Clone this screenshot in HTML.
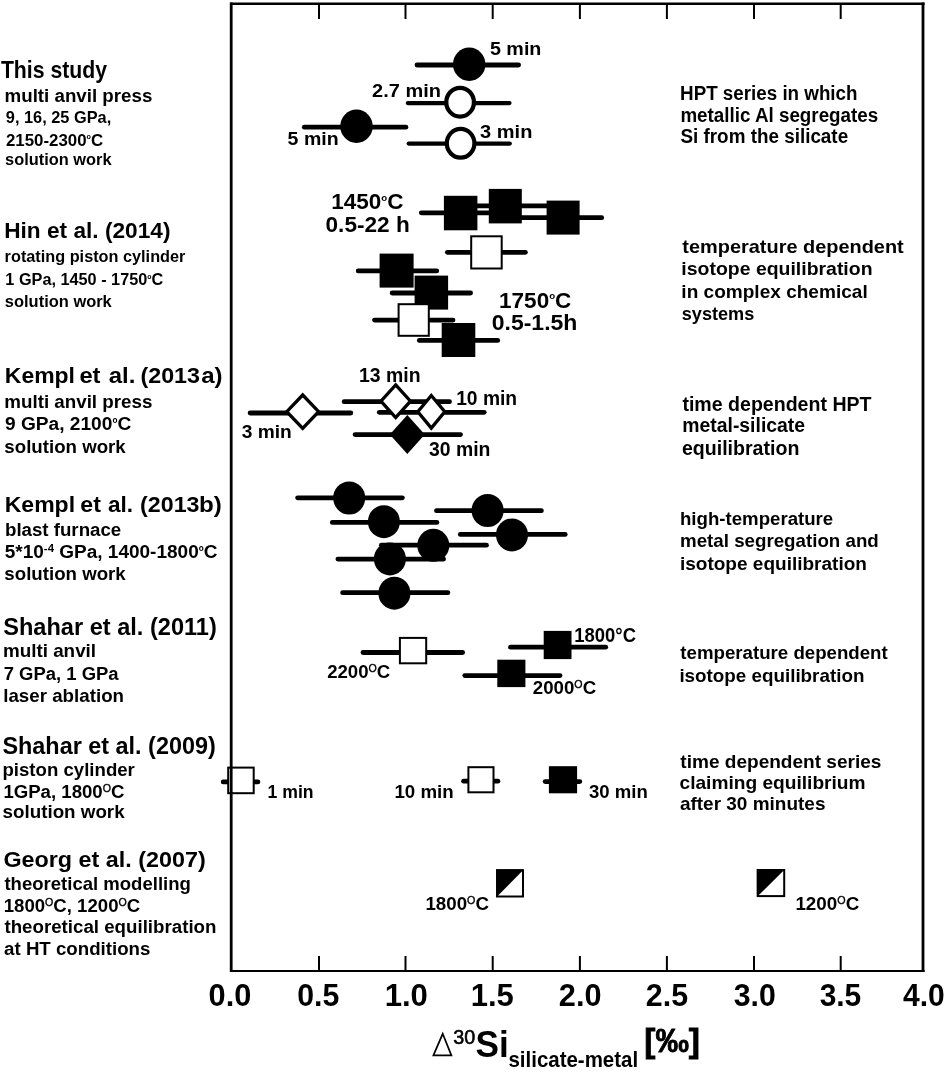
<!DOCTYPE html>
<html><head><meta charset="utf-8"><style>
html,body{margin:0;padding:0;background:#fff;}
svg{display:block;will-change:transform;filter:blur(0.35px);}
text{font-family:"Liberation Sans", sans-serif;font-weight:bold;fill:#000;stroke:#000;stroke-width:0px;}
</style></head><body>
<svg width="944" height="1072" viewBox="0 0 944 1072">
<rect width="944" height="1072" fill="#fff"/>
<line x1="417.0" y1="65" x2="518.6" y2="65" stroke="#000" stroke-width="4.8" stroke-linecap="round"/>
<ellipse cx="469.2" cy="64.3" rx="16.2" ry="16.7" fill="#000"/>
<line x1="407.8" y1="103.1" x2="509.5" y2="103.1" stroke="#000" stroke-width="4.2" stroke-linecap="round"/>
<ellipse cx="460.1" cy="102.2" rx="13.8" ry="14.4" fill="#fff" stroke="#000" stroke-width="4.2"/>
<line x1="304.3" y1="127.2" x2="405.9" y2="127.2" stroke="#000" stroke-width="4.8" stroke-linecap="round"/>
<ellipse cx="356.5" cy="126.3" rx="16.2" ry="16.7" fill="#000"/>
<line x1="408.70000000000005" y1="143.6" x2="509.79999999999995" y2="143.6" stroke="#000" stroke-width="4.2" stroke-linecap="round"/>
<ellipse cx="460.6" cy="143.3" rx="13.8" ry="14.4" fill="#fff" stroke="#000" stroke-width="4.2"/>
<line x1="421.3" y1="212.8" x2="500" y2="212.8" stroke="#000" stroke-width="4.8" stroke-linecap="round"/>
<line x1="460" y1="205.8" x2="560" y2="205.8" stroke="#000" stroke-width="4.8" stroke-linecap="round"/>
<line x1="510" y1="217.7" x2="601.7" y2="217.7" stroke="#000" stroke-width="4.8" stroke-linecap="round"/>
<rect x="443.9" y="195.8" width="33.5" height="34.5" fill="#000"/>
<rect x="488.8" y="188.9" width="33" height="34.5" fill="#000"/>
<rect x="546.6" y="200.6" width="33" height="34" fill="#000"/>
<line x1="447.4" y1="252.3" x2="525.4" y2="252.3" stroke="#000" stroke-width="4.8" stroke-linecap="round"/>
<rect x="471.2" y="236.3" width="30.5" height="32.2" fill="#fff" stroke="#000" stroke-width="2"/>
<line x1="358.2" y1="270.9" x2="436.7" y2="270.9" stroke="#000" stroke-width="4.8" stroke-linecap="round"/>
<rect x="379.6" y="253.6" width="34" height="34" fill="#000"/>
<line x1="392.1" y1="293" x2="470.59999999999997" y2="293" stroke="#000" stroke-width="4.8" stroke-linecap="round"/>
<rect x="414.6" y="275.6" width="33.5" height="34" fill="#000"/>
<line x1="374.5" y1="320.1" x2="453.0" y2="320.1" stroke="#000" stroke-width="4.8" stroke-linecap="round"/>
<rect x="398.6" y="304.2" width="30.200000000000003" height="31.6" fill="#fff" stroke="#000" stroke-width="2"/>
<line x1="419.3" y1="340.4" x2="497.7" y2="340.4" stroke="#000" stroke-width="4.8" stroke-linecap="round"/>
<rect x="441.7" y="323.0" width="33.6" height="34" fill="#000"/>
<line x1="250.1" y1="413.0" x2="350.8" y2="413.0" stroke="#000" stroke-width="4.8" stroke-linecap="round"/>
<line x1="344.09999999999997" y1="401.7" x2="449.5" y2="401.7" stroke="#000" stroke-width="4.8" stroke-linecap="round"/>
<line x1="379.29999999999995" y1="412.3" x2="484.20000000000005" y2="412.3" stroke="#000" stroke-width="4.8" stroke-linecap="round"/>
<line x1="355.09999999999997" y1="434.6" x2="460.5" y2="434.6" stroke="#000" stroke-width="4.8" stroke-linecap="round"/>
<polygon points="302.7,394.99184358304586 318.6208610884065,411.7 302.7,428.4081564169541 286.77913891159346,411.7" fill="#fff" stroke="#000" stroke-width="3.3" stroke-linejoin="miter"/>
<polygon points="395.7,384.906494398021 410.4727784124609,401.2 395.7,417.493505601979 380.92722158753907,401.2" fill="#fff" stroke="#000" stroke-width="3.3" stroke-linejoin="miter"/>
<polygon points="431.3,395.49203679964427 444.76054105426186,411.8 431.3,428.10796320035575 417.83945894573816,411.8" fill="#fff" stroke="#000" stroke-width="3.3" stroke-linejoin="miter"/>
<polygon points="407.3,415.1 424.8,434.5 407.3,453.9 389.8,434.5" fill="#000"/>
<line x1="297.6" y1="497.8" x2="402.4" y2="497.8" stroke="#000" stroke-width="4.8" stroke-linecap="round"/>
<ellipse cx="349.2" cy="498" rx="16" ry="16.5" fill="#000"/>
<line x1="332.3" y1="522.4" x2="436.9" y2="522.4" stroke="#000" stroke-width="4.8" stroke-linecap="round"/>
<ellipse cx="383.9" cy="521.7" rx="16" ry="16.5" fill="#000"/>
<line x1="436.5" y1="510.7" x2="541.4000000000001" y2="510.7" stroke="#000" stroke-width="4.8" stroke-linecap="round"/>
<ellipse cx="487.6" cy="510.5" rx="16" ry="16.5" fill="#000"/>
<line x1="460.3" y1="534.4" x2="565.2" y2="534.4" stroke="#000" stroke-width="4.8" stroke-linecap="round"/>
<ellipse cx="512" cy="534.9" rx="16" ry="16.5" fill="#000"/>
<line x1="381.40000000000003" y1="545.2" x2="486.5" y2="545.2" stroke="#000" stroke-width="4.8" stroke-linecap="round"/>
<ellipse cx="433.3" cy="545.3" rx="16" ry="16.5" fill="#000"/>
<line x1="337.90000000000003" y1="559.1" x2="443.59999999999997" y2="559.1" stroke="#000" stroke-width="4.8" stroke-linecap="round"/>
<ellipse cx="389.9" cy="558.9" rx="16" ry="16.5" fill="#000"/>
<line x1="342.6" y1="592.7" x2="447.9" y2="592.7" stroke="#000" stroke-width="4.8" stroke-linecap="round"/>
<ellipse cx="394.4" cy="593.2" rx="16" ry="16.5" fill="#000"/>
<line x1="363.0" y1="652.5" x2="462.59999999999997" y2="652.5" stroke="#000" stroke-width="4.8" stroke-linecap="round"/>
<rect x="399.9" y="637.9" width="26.3" height="25.4" fill="#fff" stroke="#000" stroke-width="2"/>
<line x1="510.5" y1="647.2" x2="605.7" y2="647.2" stroke="#000" stroke-width="4.8" stroke-linecap="round"/>
<rect x="543.7" y="630.9" width="27.8" height="28.2" fill="#000"/>
<line x1="464.79999999999995" y1="675.6" x2="560.0" y2="675.6" stroke="#000" stroke-width="4.8" stroke-linecap="round"/>
<rect x="497.3" y="659.7" width="28.1" height="27.4" fill="#000"/>
<line x1="223.20000000000002" y1="781.9" x2="257.9" y2="781.9" stroke="#000" stroke-width="4.8" stroke-linecap="round"/>
<rect x="228.2" y="767.6" width="25.5" height="25.6" fill="#fff" stroke="#000" stroke-width="2"/>
<line x1="463.6" y1="781.2" x2="497.9" y2="781.2" stroke="#000" stroke-width="4.8" stroke-linecap="round"/>
<rect x="468.4" y="767.2" width="25.1" height="25.1" fill="#fff" stroke="#000" stroke-width="2"/>
<line x1="545.1999999999999" y1="781.6" x2="579.8000000000001" y2="781.6" stroke="#000" stroke-width="4.8" stroke-linecap="round"/>
<rect x="548.9" y="766.2" width="28.2" height="27.1" fill="#000"/>
<polygon points="496.1,869.3 524,869.3 496.1,897.5" fill="#000"/>
<rect x="497.1" y="870.3" width="25.899999999999977" height="26.200000000000045" fill="none" stroke="#000" stroke-width="2"/>
<polygon points="756.8,869.0 785.2,869.0 756.8,897.1" fill="#000"/>
<rect x="757.8" y="870.0" width="26.40000000000009" height="26.100000000000023" fill="none" stroke="#000" stroke-width="2"/>
<line x1="231.2" y1="2.5" x2="231.2" y2="972" stroke="#000" stroke-width="2.8"/>
<line x1="230" y1="3.8" x2="924.6" y2="3.8" stroke="#000" stroke-width="2.6"/>
<line x1="923.0" y1="2.5" x2="923.0" y2="972" stroke="#000" stroke-width="2.8"/>
<line x1="230" y1="970.9" x2="924.6" y2="970.9" stroke="#000" stroke-width="2"/>
<line x1="319" y1="4" x2="319" y2="19" stroke="#000" stroke-width="2"/>
<line x1="319" y1="956" x2="319" y2="971" stroke="#000" stroke-width="2"/>
<line x1="405.5" y1="4" x2="405.5" y2="19" stroke="#000" stroke-width="2"/>
<line x1="405.5" y1="956" x2="405.5" y2="971" stroke="#000" stroke-width="2"/>
<line x1="492.7" y1="4" x2="492.7" y2="19" stroke="#000" stroke-width="2"/>
<line x1="492.7" y1="956" x2="492.7" y2="971" stroke="#000" stroke-width="2"/>
<line x1="579.9" y1="4" x2="579.9" y2="19" stroke="#000" stroke-width="2"/>
<line x1="579.9" y1="956" x2="579.9" y2="971" stroke="#000" stroke-width="2"/>
<line x1="666.9" y1="4" x2="666.9" y2="19" stroke="#000" stroke-width="2"/>
<line x1="666.9" y1="956" x2="666.9" y2="971" stroke="#000" stroke-width="2"/>
<line x1="754" y1="4" x2="754" y2="19" stroke="#000" stroke-width="2"/>
<line x1="754" y1="956" x2="754" y2="971" stroke="#000" stroke-width="2"/>
<line x1="840.7" y1="4" x2="840.7" y2="19" stroke="#000" stroke-width="2"/>
<line x1="840.7" y1="956" x2="840.7" y2="971" stroke="#000" stroke-width="2"/>
<text x="0.88" y="78.1" font-size="24.50" textLength="106.12" lengthAdjust="spacingAndGlyphs">This study</text>
<text x="4.55" y="101.6" font-size="17.50" textLength="147.79" lengthAdjust="spacingAndGlyphs">multi anvil press</text>
<text x="5.87" y="123.2" font-size="16.50" textLength="105.37" lengthAdjust="spacingAndGlyphs">9, 16, 25 GPa,</text>
<text x="5.98" y="145.8" font-size="17.20" textLength="97.18" lengthAdjust="spacingAndGlyphs">2150-2300<tspan font-size="7.40" dy="-6.34">o</tspan><tspan dy="6.34">C</tspan></text>
<text x="5.13" y="164.8" font-size="16.30" textLength="106.36" lengthAdjust="spacingAndGlyphs">solution work</text>
<text x="4.18" y="238.1" font-size="22.30" textLength="166.30" lengthAdjust="spacingAndGlyphs">Hin et al. (2014)</text>
<text x="4.61" y="261.8" font-size="16.30" textLength="180.80" lengthAdjust="spacingAndGlyphs">rotating piston cylinder</text>
<text x="5.34" y="285.1" font-size="17.40" textLength="157.95" lengthAdjust="spacingAndGlyphs">1 GPa, 1450 - 1750<tspan font-size="7.48" dy="-6.41">o</tspan><tspan dy="6.41">C</tspan></text>
<text x="4.87" y="306.7" font-size="16.40" textLength="106.91" lengthAdjust="spacingAndGlyphs">solution work</text>
<text x="4.81" y="383.3" font-size="22.90" textLength="70.19" lengthAdjust="spacingAndGlyphs">Kempl</text>
<text x="4.31" y="407.9" font-size="18.78" textLength="148.05" lengthAdjust="spacingAndGlyphs">multi anvil press</text>
<text x="4.93" y="429.8" font-size="19.14" textLength="126.35" lengthAdjust="spacingAndGlyphs">9 GPa, 2100<tspan font-size="8.23" dy="-7.06">o</tspan><tspan dy="7.06">C</tspan></text>
<text x="4.34" y="452.7" font-size="18.57" textLength="121.42" lengthAdjust="spacingAndGlyphs">solution work</text>
<text x="4.73" y="511.7" font-size="22.90" textLength="70.35" lengthAdjust="spacingAndGlyphs">Kempl</text>
<text x="4.98" y="535.6" font-size="18.71" textLength="116.25" lengthAdjust="spacingAndGlyphs">blast furnace</text>
<text x="4.75" y="558.2" font-size="18.99" textLength="212.67" lengthAdjust="spacingAndGlyphs">5*10<tspan font-size="11.40" dy="-5.73">-4</tspan><tspan dy="5.73"> GPa, 1400-1800<tspan font-size="8.17" dy="-7.00">o</tspan><tspan dy="7.00">C</tspan></tspan></text>
<text x="4.34" y="579.9" font-size="18.57" textLength="121.42" lengthAdjust="spacingAndGlyphs">solution work</text>
<text x="3.20" y="634.9" font-size="23.42" textLength="213.57" lengthAdjust="spacingAndGlyphs">Shahar et al. (2011)</text>
<text x="2.94" y="657.2" font-size="18.92" textLength="93.13" lengthAdjust="spacingAndGlyphs">multi anvil</text>
<text x="3.71" y="680.0" font-size="18.47" textLength="114.93" lengthAdjust="spacingAndGlyphs">7 GPa, 1 GPa</text>
<text x="3.24" y="701.9" font-size="18.78" textLength="120.80" lengthAdjust="spacingAndGlyphs">laser ablation</text>
<text x="2.43" y="753.7" font-size="23.40" textLength="213.32" lengthAdjust="spacingAndGlyphs">Shahar et al. (2009)</text>
<text x="2.47" y="776.0" font-size="18.60" textLength="132.40" lengthAdjust="spacingAndGlyphs">piston cylinder</text>
<text x="3.39" y="798.3" font-size="18.62" textLength="121.01" lengthAdjust="spacingAndGlyphs">1GPa, 1800<tspan font-size="10.61" font-weight="normal" stroke="#000" stroke-width="0.35" dy="-5.96">O</tspan><tspan dy="5.96">C</tspan></text>
<text x="2.58" y="817.9" font-size="18.70" textLength="122.01" lengthAdjust="spacingAndGlyphs">solution work</text>
<text x="3.40" y="867.0" font-size="22.70" textLength="202.35" lengthAdjust="spacingAndGlyphs">Georg et al. (2007)</text>
<text x="4.44" y="889.5" font-size="18.60" textLength="186.40" lengthAdjust="spacingAndGlyphs">theoretical modelling</text>
<text x="3.70" y="912.0" font-size="18.58" textLength="136.48" lengthAdjust="spacingAndGlyphs">1800<tspan font-size="10.59" font-weight="normal" stroke="#000" stroke-width="0.35" dy="-5.94">O</tspan><tspan dy="5.94">C</tspan>, 1200<tspan font-size="10.59" font-weight="normal" stroke="#000" stroke-width="0.35" dy="-5.94">O</tspan><tspan dy="5.94">C</tspan></text>
<text x="4.44" y="932.9" font-size="18.76" textLength="212.01" lengthAdjust="spacingAndGlyphs">theoretical equilibration</text>
<text x="4.10" y="954.9" font-size="18.69" textLength="146.24" lengthAdjust="spacingAndGlyphs">at HT conditions</text>
<text x="680.10" y="99.7" font-size="19.40" textLength="177.42" lengthAdjust="spacingAndGlyphs">HPT series in which</text>
<text x="680.38" y="121.7" font-size="19.40" textLength="197.85" lengthAdjust="spacingAndGlyphs">metallic Al segregates</text>
<text x="680.45" y="143.4" font-size="19.40" textLength="167.69" lengthAdjust="spacingAndGlyphs">Si from the silicate</text>
<text x="682.35" y="252.8" font-size="18.60" textLength="221.39" lengthAdjust="spacingAndGlyphs">temperature dependent</text>
<text x="681.39" y="275.3" font-size="18.60" textLength="191.14" lengthAdjust="spacingAndGlyphs">isotope equilibration</text>
<text x="681.35" y="297.5" font-size="18.60" textLength="186.34" lengthAdjust="spacingAndGlyphs">in complex chemical</text>
<text x="681.79" y="319.7" font-size="18.60" textLength="72.44" lengthAdjust="spacingAndGlyphs">systems</text>
<text x="682.39" y="410.8" font-size="19.56" textLength="189.17" lengthAdjust="spacingAndGlyphs">time dependent HPT</text>
<text x="682.23" y="432.4" font-size="19.43" textLength="122.89" lengthAdjust="spacingAndGlyphs">metal-silicate</text>
<text x="681.90" y="454.8" font-size="19.61" textLength="117.48" lengthAdjust="spacingAndGlyphs">equilibration</text>
<text x="679.99" y="524.9" font-size="18.70" textLength="153.25" lengthAdjust="spacingAndGlyphs">high-temperature</text>
<text x="680.00" y="546.9" font-size="18.78" textLength="198.81" lengthAdjust="spacingAndGlyphs">metal segregation and</text>
<text x="679.95" y="569.8" font-size="19.06" textLength="187.03" lengthAdjust="spacingAndGlyphs">isotope equilibration</text>
<text x="680.33" y="658.6" font-size="18.70" textLength="207.42" lengthAdjust="spacingAndGlyphs">temperature dependent</text>
<text x="679.38" y="681.5" font-size="18.83" textLength="185.01" lengthAdjust="spacingAndGlyphs">isotope equilibration</text>
<text x="680.33" y="768.2" font-size="19.06" textLength="201.09" lengthAdjust="spacingAndGlyphs">time dependent series</text>
<text x="679.50" y="789.2" font-size="19.15" textLength="186.06" lengthAdjust="spacingAndGlyphs">claiming equilibrium</text>
<text x="679.90" y="810.3" font-size="19.05" textLength="145.60" lengthAdjust="spacingAndGlyphs">after 30 minutes</text>
<text x="489.94" y="55.0" font-size="18.60" textLength="51.48" lengthAdjust="spacingAndGlyphs">5 min</text>
<text x="372.10" y="97.0" font-size="18.80" textLength="68.88" lengthAdjust="spacingAndGlyphs">2.7 min</text>
<text x="287.62" y="145.2" font-size="18.60" textLength="50.98" lengthAdjust="spacingAndGlyphs">5 min</text>
<text x="480.11" y="137.8" font-size="18.80" textLength="52.29" lengthAdjust="spacingAndGlyphs">3 min</text>
<text x="331.30" y="208.8" font-size="22.40" textLength="72.22" lengthAdjust="spacingAndGlyphs">1450<tspan font-size="9.63" dy="-8.26">o</tspan><tspan dy="8.26">C</tspan></text>
<text x="325.54" y="231.6" font-size="22.40" textLength="84.24" lengthAdjust="spacingAndGlyphs">0.5-22 h</text>
<text x="499.07" y="307.5" font-size="22.40" textLength="72.28" lengthAdjust="spacingAndGlyphs">1750<tspan font-size="9.63" dy="-8.26">o</tspan><tspan dy="8.26">C</tspan></text>
<text x="491.68" y="330.0" font-size="22.40" textLength="85.76" lengthAdjust="spacingAndGlyphs">0.5-1.5h</text>
<text x="359.03" y="382.1" font-size="19.55" textLength="61.59" lengthAdjust="spacingAndGlyphs">13 min</text>
<text x="456.16" y="405.2" font-size="19.39" textLength="60.95" lengthAdjust="spacingAndGlyphs">10 min</text>
<text x="241.73" y="437.9" font-size="19.23" textLength="50.06" lengthAdjust="spacingAndGlyphs">3 min</text>
<text x="428.99" y="456.0" font-size="19.36" textLength="61.44" lengthAdjust="spacingAndGlyphs">30 min</text>
<text x="574.37" y="642.2" font-size="19.50" textLength="61.61" lengthAdjust="spacingAndGlyphs">1800°C</text>
<text x="327.16" y="677.6" font-size="18.90" textLength="63.14" lengthAdjust="spacingAndGlyphs">2200<tspan font-size="10.77" font-weight="normal" stroke="#000" stroke-width="0.35" dy="-6.05">O</tspan><tspan dy="6.05">C</tspan></text>
<text x="532.85" y="693.9" font-size="18.90" textLength="63.29" lengthAdjust="spacingAndGlyphs">2000<tspan font-size="10.77" font-weight="normal" stroke="#000" stroke-width="0.35" dy="-6.05">O</tspan><tspan dy="6.05">C</tspan></text>
<text x="267.57" y="797.5" font-size="19.00" textLength="46.06" lengthAdjust="spacingAndGlyphs">1 min</text>
<text x="394.45" y="798.0" font-size="19.00" textLength="59.34" lengthAdjust="spacingAndGlyphs">10 min</text>
<text x="588.93" y="798.0" font-size="19.00" textLength="58.81" lengthAdjust="spacingAndGlyphs">30 min</text>
<text x="425.43" y="910.1" font-size="19.00" textLength="63.53" lengthAdjust="spacingAndGlyphs">1800<tspan font-size="10.83" font-weight="normal" stroke="#000" stroke-width="0.35" dy="-6.08">O</tspan><tspan dy="6.08">C</tspan></text>
<text x="795.39" y="910.4" font-size="19.00" textLength="63.85" lengthAdjust="spacingAndGlyphs">1200<tspan font-size="10.83" font-weight="normal" stroke="#000" stroke-width="0.35" dy="-6.08">O</tspan><tspan dy="6.08">C</tspan></text>
<text x="208.56" y="1005.9" font-size="31.00" textLength="42.78" lengthAdjust="spacingAndGlyphs">0.0</text>
<text x="297.28" y="1005.9" font-size="31.00" textLength="42.10" lengthAdjust="spacingAndGlyphs">0.5</text>
<text x="384.68" y="1005.9" font-size="31.00" textLength="43.25" lengthAdjust="spacingAndGlyphs">1.0</text>
<text x="470.78" y="1005.9" font-size="31.00" textLength="43.11" lengthAdjust="spacingAndGlyphs">1.5</text>
<text x="558.85" y="1005.9" font-size="31.00" textLength="42.64" lengthAdjust="spacingAndGlyphs">2.0</text>
<text x="645.84" y="1005.9" font-size="31.00" textLength="42.23" lengthAdjust="spacingAndGlyphs">2.5</text>
<text x="733.71" y="1005.9" font-size="31.00" textLength="42.05" lengthAdjust="spacingAndGlyphs">3.0</text>
<text x="819.63" y="1005.9" font-size="31.00" textLength="41.65" lengthAdjust="spacingAndGlyphs">3.5</text>
<text x="903.01" y="1005.9" font-size="31.00" textLength="41.78" lengthAdjust="spacingAndGlyphs">4.0</text>
<text x="453.18" y="1044.3" font-size="19.90" style="font-weight:normal;stroke-width:0.55px" textLength="21.97" lengthAdjust="spacingAndGlyphs">30</text>
<text x="475.61" y="1056.9" font-size="37.00" textLength="33.22" lengthAdjust="spacingAndGlyphs">Si</text>
<text x="508.46" y="1067.3" font-size="22.50" textLength="129.64" lengthAdjust="spacingAndGlyphs">silicate-metal</text>
<text x="644.25" y="1052.2" font-size="33.50" style="stroke-width:0.8px" textLength="55.77" lengthAdjust="spacingAndGlyphs">[&#8240;]</text>
<text x="79.41" y="383.3" font-size="22.90" textLength="21.08" lengthAdjust="spacingAndGlyphs">et</text>
<text x="108.66" y="383.3" font-size="22.90" textLength="26.65" lengthAdjust="spacingAndGlyphs">al.</text>
<text x="140.51" y="383.3" font-size="22.90" textLength="59.50" lengthAdjust="spacingAndGlyphs">(2013</text>
<text x="201.16" y="383.3" font-size="22.90" textLength="21.37" lengthAdjust="spacingAndGlyphs">a)</text>
<text x="80.30" y="511.7" font-size="22.90" textLength="20.54" lengthAdjust="spacingAndGlyphs">et</text>
<text x="107.98" y="511.7" font-size="22.90" textLength="25.14" lengthAdjust="spacingAndGlyphs">al.</text>
<text x="140.11" y="511.7" font-size="22.90" textLength="59.32" lengthAdjust="spacingAndGlyphs">(2013</text>
<text x="198.92" y="511.7" font-size="22.90" textLength="22.79" lengthAdjust="spacingAndGlyphs">b)</text>
<polygon points="433.4,1055.4 442.7,1033.8 451.4,1055.4" fill="none" stroke="#000" stroke-width="1.7" stroke-linejoin="miter"/>
</svg>
</body></html>
